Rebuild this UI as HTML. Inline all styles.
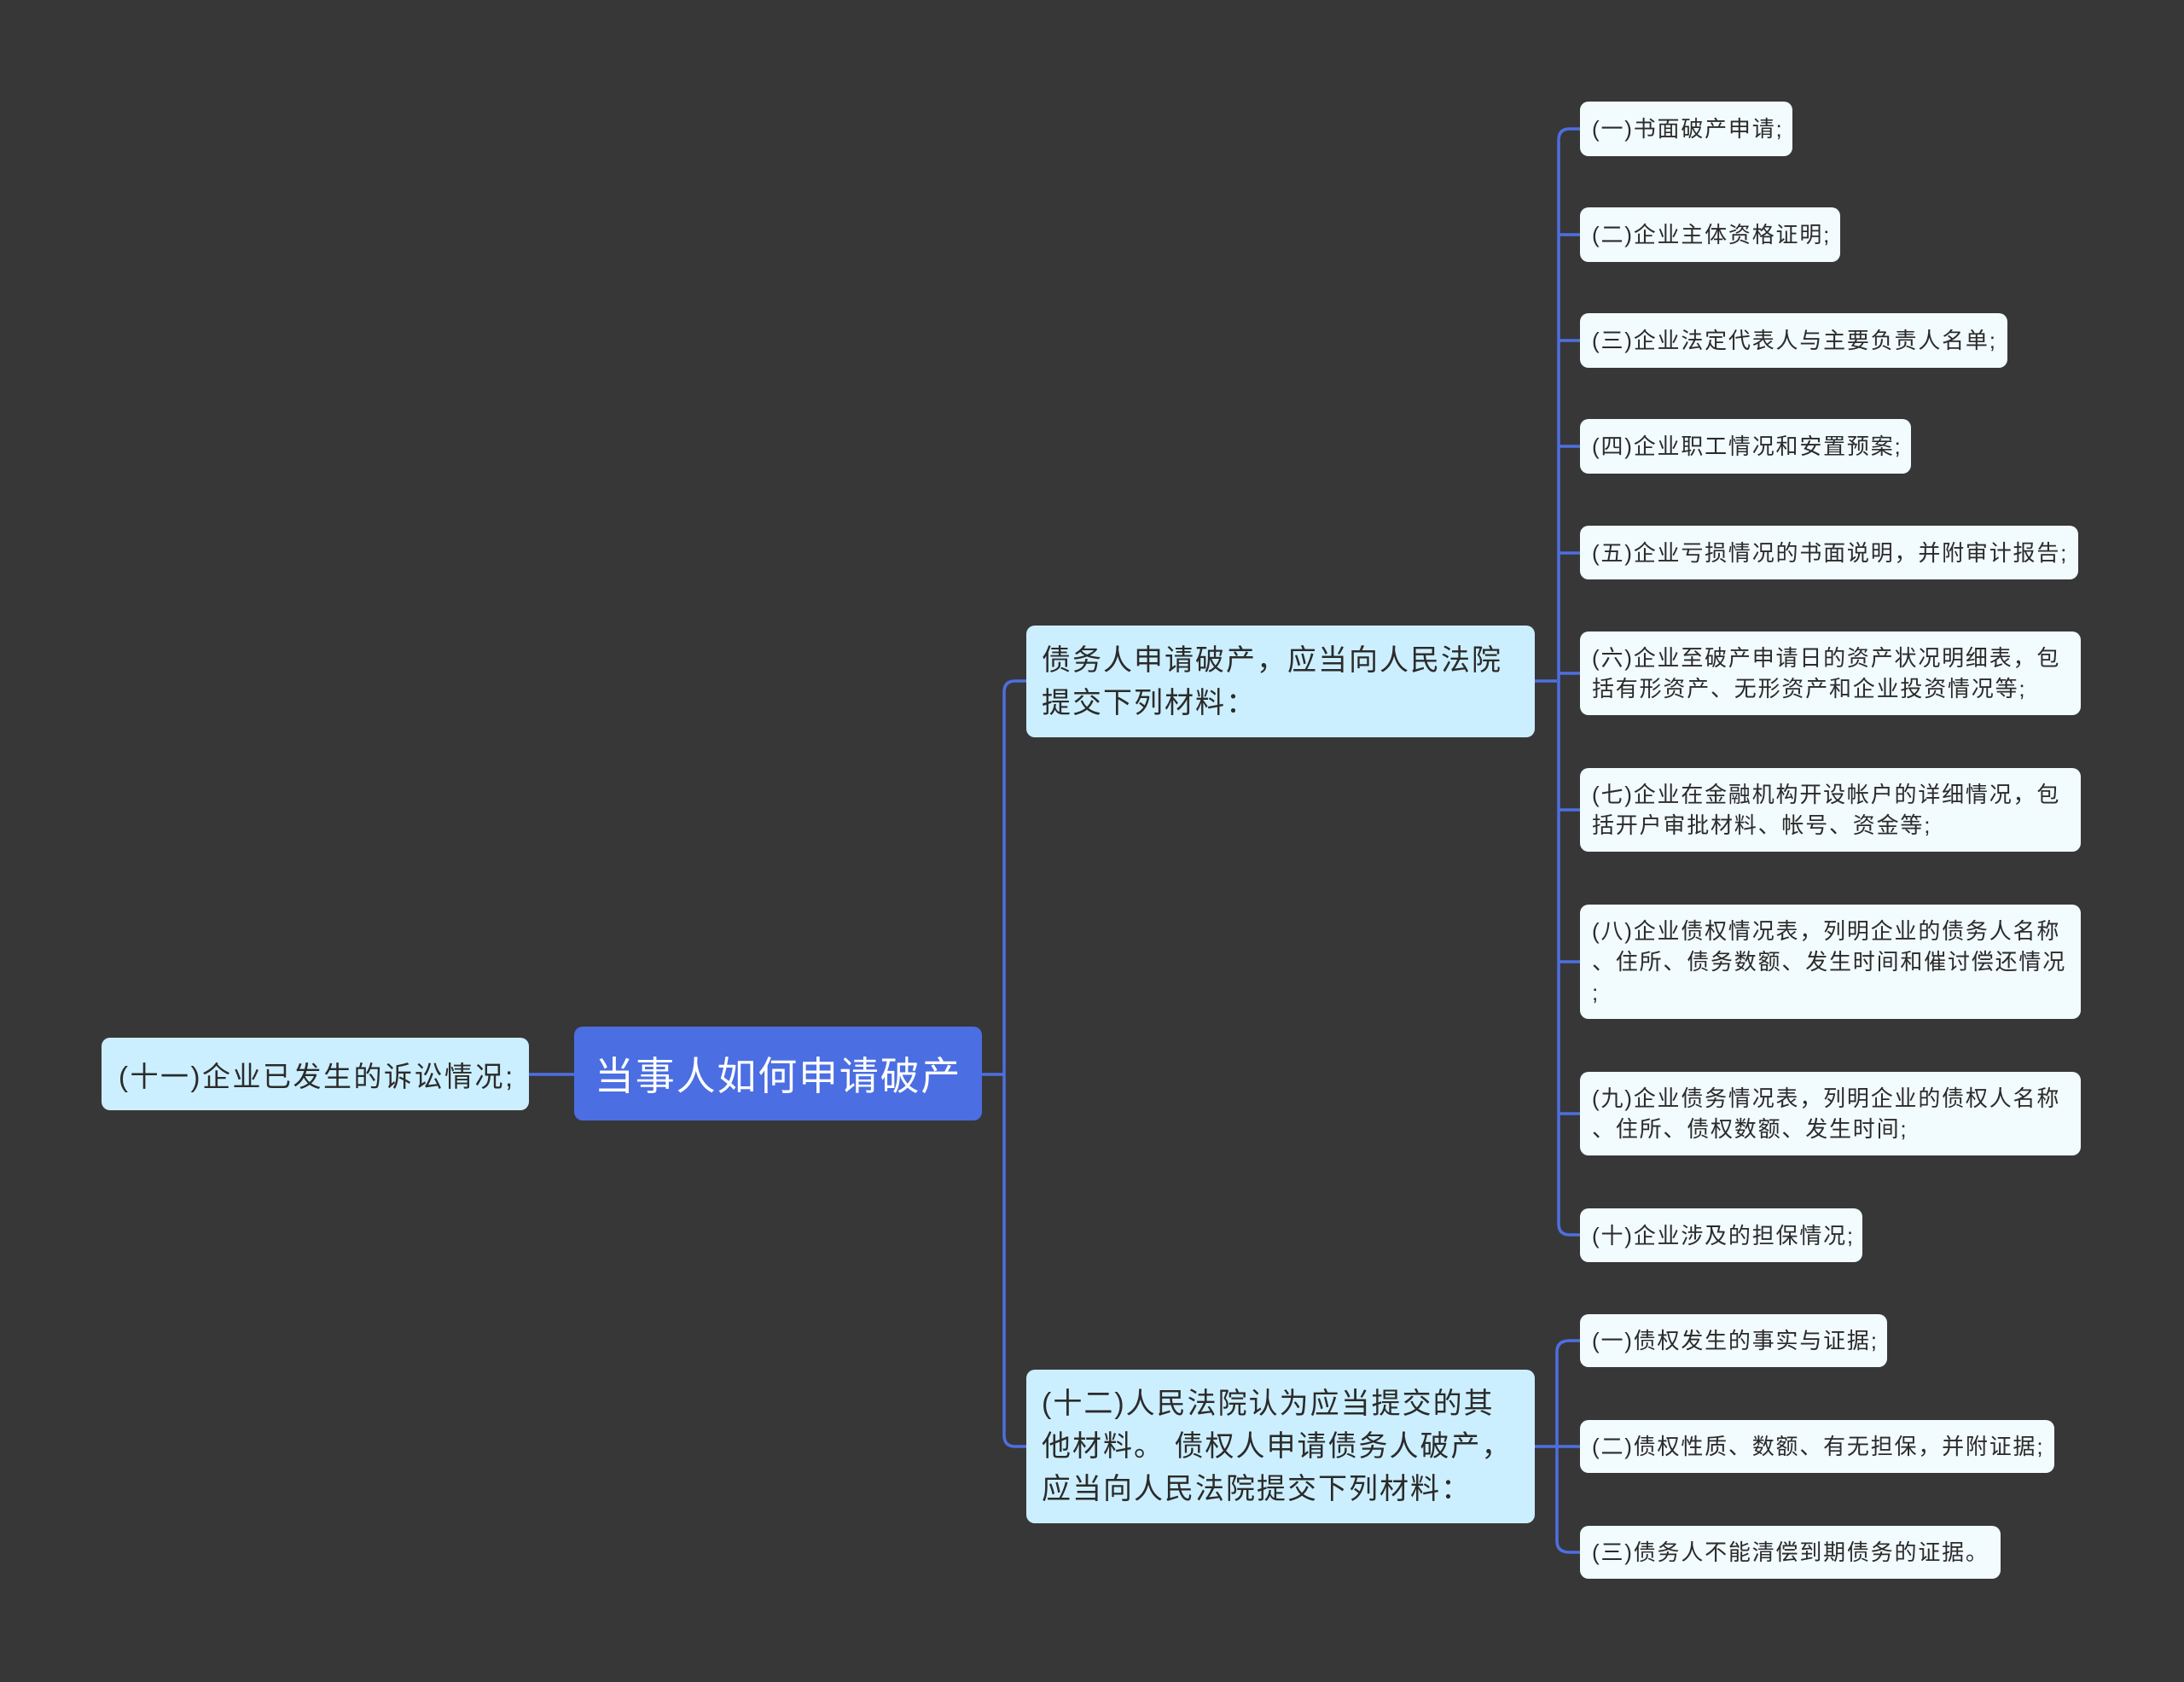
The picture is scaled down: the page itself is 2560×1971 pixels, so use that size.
<!DOCTYPE html>
<html><head><meta charset="utf-8"><style>
body{margin:0;width:2560px;height:1971px;background:#383738;position:relative;overflow:hidden;font-family:"Liberation Sans","Noto Sans CJK SC",sans-serif;}
.b{position:absolute;box-sizing:border-box;border-radius:10px;color:#2b2b2b;display:flex;align-items:center;}
.leaf{background:#f2fbfe;font-size:26px;line-height:36px;padding:0 14px;left:1852px;white-space:nowrap;letter-spacing:1.8px;}
.mid{background:#ccefff;font-size:34px;line-height:50px;padding:0 18px;left:1203px;width:596px;letter-spacing:2px;white-space:nowrap;}
svg{position:absolute;left:0;top:0}
</style></head><body>
<svg width="2560" height="1971" fill="none" stroke="#4d6fe0" stroke-width="3.5">
<path d="M620 1259 H673"/>
<path d="M1151 1259 H1177"/>
<path d="M1203 798 H1190 Q1177 798 1177 811 V1682 Q1177 1695 1190 1695 H1203"/>
<path d="M1799 798 H1825"/>
<path d="M1852 151 H1840 Q1827 151 1827 164 V1434 Q1827 1447 1840 1447 H1852"/>
<path d="M1827 275 H1852 M1827 399 H1852 M1827 523 H1852 M1827 648 H1852 M1827 789 H1852 M1827 949 H1852 M1827 1127 H1852 M1827 1305 H1852"/>
<path d="M1799 1695 H1825"/>
<path d="M1852 1571 H1840 Q1825 1571 1825 1584 V1806 Q1825 1819 1840 1819 H1852 M1825 1695 H1852"/>
</svg>
<div class="b" style="left:673px;top:1203px;width:478px;height:110px;background:#4b6ee3;color:#fff;font-size:46px;padding-left:24px;letter-spacing:1.8px;white-space:nowrap;">当事人如何申请破产</div>
<div class="b" style="left:119px;top:1216px;width:501px;height:85px;background:#ccefff;font-size:33px;padding-left:20px;letter-spacing:2.5px;white-space:nowrap;">(十一)企业已发生的诉讼情况;</div>
<div class="b mid" style="top:733px;height:131px;">债务人申请破产，应当向人民法院<br>提交下列材料：</div>
<div class="b mid" style="top:1605px;height:180px;">(十二)人民法院认为应当提交的其<br>他材料。 债权人申请债务人破产，<br>应当向人民法院提交下列材料：</div>
<div class="b leaf" style="top:119px;height:64px;width:249px">(一)书面破产申请;</div>
<div class="b leaf" style="top:243px;height:64px;width:305px">(二)企业主体资格证明;</div>
<div class="b leaf" style="top:367px;height:64px;width:501px">(三)企业法定代表人与主要负责人名单;</div>
<div class="b leaf" style="top:491px;height:64px;width:388px">(四)企业职工情况和安置预案;</div>
<div class="b leaf" style="top:616px;height:63px;width:584px">(五)企业亏损情况的书面说明，并附审计报告;</div>
<div class="b leaf" style="top:740px;height:98px;width:587px">(六)企业至破产申请日的资产状况明细表，包<br>括有形资产、无形资产和企业投资情况等;</div>
<div class="b leaf" style="top:900px;height:98px;width:587px">(七)企业在金融机构开设帐户的详细情况，包<br>括开户审批材料、帐号、资金等;</div>
<div class="b leaf" style="top:1060px;height:134px;width:587px">(八)企业债权情况表，列明企业的债务人名称<br>、住所、债务数额、发生时间和催讨偿还情况<br>;</div>
<div class="b leaf" style="top:1256px;height:98px;width:587px">(九)企业债务情况表，列明企业的债权人名称<br>、住所、债权数额、发生时间;</div>
<div class="b leaf" style="top:1416px;height:63px;width:331px">(十)企业涉及的担保情况;</div>
<div class="b leaf" style="top:1540px;height:62px;width:360px">(一)债权发生的事实与证据;</div>
<div class="b leaf" style="top:1664px;height:62px;width:556px">(二)债权性质、数额、有无担保，并附证据;</div>
<div class="b leaf" style="top:1788px;height:62px;width:493px">(三)债务人不能清偿到期债务的证据。</div>
</body></html>
